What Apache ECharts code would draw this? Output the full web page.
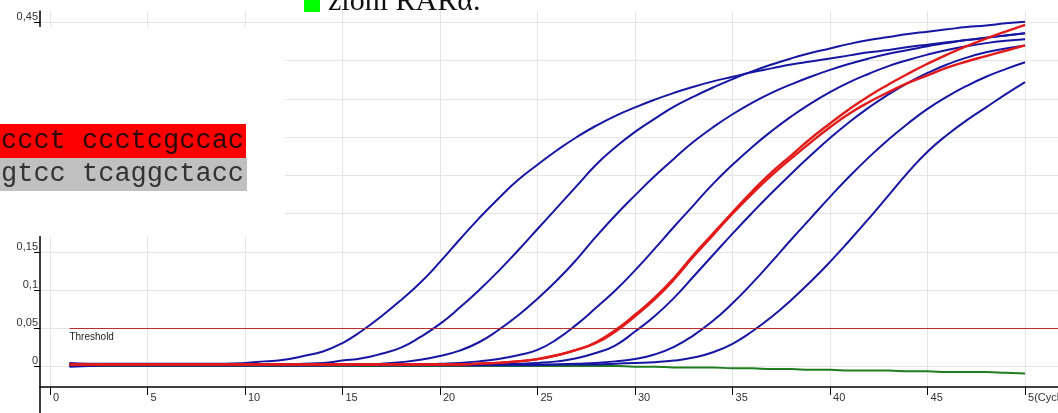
<!DOCTYPE html>
<html>
<head>
<meta charset="utf-8">
<script src="https://cdn.jsdelivr.net/npm/echarts@6/dist/echarts.min.js"></script>
<style>
  html, body { margin: 0; padding: 0; background: #fff; }
  #chart { width: 1058px; height: 413px; }
</style>
</head>
<body>
<div id="chart"></div>
<script>
// amplification curves, fluorescence per cycle
const cycles = [1,2,3,4,5,6,7,8,9,10,11,12,13,14,15,16,17,18,19,20,21,22,23,24,25,26,27,28,29,30,31,32,33,34,35,36,37,38,39,40,41,42,43,44,45,46,47,48,49,50];

const curveA = [0.005,0.004,0.004,0.004,0.004,0.004,0.004,0.004,0.004,0.005,
  0.007,0.009,0.014,0.020,0.031,0.047,0.066,0.087,0.110,0.137,
  0.166,0.194,0.220,0.244,0.264,0.283,0.300,0.315,0.328,0.339,
  0.349,0.358,0.366,0.373,0.379,0.385,0.390,0.395,0.399,0.403,
  0.407,0.411,0.414,0.418,0.421,0.424,0.427,0.430,0.433,0.436];
const curveB = [0.003,0.003,0.003,0.003,0.003,0.003,0.003,0.003,0.003,0.003,
  0.003,0.003,0.004,0.005,0.008,0.011,0.017,0.025,0.039,0.056,
  0.077,0.100,0.125,0.152,0.180,0.208,0.236,0.264,0.287,0.307,
  0.324,0.340,0.353,0.365,0.376,0.386,0.395,0.403,0.410,0.416,
  0.422,0.427,0.431,0.435,0.438,0.441,0.444,0.446,0.449,0.451];
const curveC = [0.001,0.002,0.002,0.002,0.002,0.002,0.002,0.002,0.002,0.002,
  0.002,0.002,0.002,0.002,0.003,0.003,0.004,0.006,0.009,0.014,
  0.021,0.032,0.048,0.067,0.089,0.113,0.140,0.170,0.198,0.224,
  0.249,0.272,0.294,0.313,0.330,0.345,0.358,0.369,0.379,0.388,
  0.396,0.403,0.409,0.414,0.419,0.423,0.427,0.430,0.433,0.436];
const curveD = [0.003,0.003,0.003,0.003,0.003,0.003,0.003,0.003,0.003,0.003,
  0.003,0.003,0.003,0.003,0.003,0.003,0.003,0.003,0.003,0.004,
  0.005,0.007,0.010,0.015,0.022,0.036,0.055,0.077,0.100,0.126,
  0.154,0.183,0.211,0.239,0.264,0.287,0.308,0.327,0.344,0.359,
  0.372,0.383,0.393,0.401,0.408,0.414,0.419,0.423,0.426,0.428];
const curveE = [0.000,0.001,0.002,0.002,0.002,0.002,0.002,0.002,0.002,0.002,
  0.002,0.002,0.002,0.002,0.002,0.002,0.002,0.002,0.002,0.002,
  0.002,0.002,0.003,0.004,0.005,0.007,0.011,0.018,0.028,0.046,
  0.066,0.090,0.118,0.146,0.174,0.201,0.227,0.252,0.276,0.299,
  0.320,0.339,0.356,0.371,0.384,0.395,0.404,0.411,0.416,0.420];
const curveF = [0.002,0.002,0.002,0.002,0.002,0.002,0.002,0.002,0.002,0.002,
  0.002,0.002,0.002,0.002,0.002,0.002,0.002,0.002,0.002,0.002,
  0.002,0.002,0.002,0.002,0.002,0.003,0.004,0.005,0.007,0.010,
  0.016,0.026,0.041,0.060,0.083,0.109,0.137,0.166,0.194,0.222,
  0.249,0.274,0.297,0.318,0.337,0.353,0.367,0.379,0.389,0.398];
const curveG = [0.004,0.003,0.003,0.003,0.003,0.003,0.003,0.003,0.003,0.003,
  0.003,0.003,0.003,0.003,0.003,0.003,0.003,0.003,0.003,0.003,
  0.003,0.003,0.003,0.003,0.003,0.003,0.003,0.003,0.004,0.005,
  0.006,0.008,0.012,0.019,0.030,0.046,0.065,0.087,0.111,0.137,
  0.165,0.194,0.224,0.254,0.281,0.303,0.322,0.339,0.356,0.372];
const curveRed1 = [0.003,0.003,0.003,0.003,0.003,0.003,0.003,0.003,0.003,0.003,
  0.003,0.003,0.003,0.003,0.003,0.003,0.003,0.003,0.003,0.003,
  0.003,0.004,0.005,0.007,0.010,0.015,0.022,0.032,0.048,0.068,
  0.090,0.116,0.146,0.174,0.202,0.229,0.254,0.276,0.298,0.318,
  0.337,0.354,0.369,0.383,0.396,0.408,0.419,0.429,0.438,0.447];
const curveRed2 = [0.003,0.003,0.003,0.003,0.003,0.003,0.003,0.003,0.003,0.003,
  0.003,0.003,0.003,0.003,0.003,0.003,0.003,0.003,0.003,0.003,
  0.003,0.004,0.005,0.007,0.010,0.015,0.022,0.031,0.046,0.066,
  0.088,0.114,0.144,0.172,0.200,0.226,0.250,0.272,0.293,0.313,
  0.331,0.346,0.359,0.371,0.381,0.391,0.399,0.406,0.413,0.420];
const curveNeg = [0.001,0.001,0.001,0.001,0.001,0.001,0.001,0.001,0.001,0.001,
  0.001,0.001,0.001,0.001,0.001,0.001,0.001,0.001,0.001,0.001,
  0.001,0.001,0.001,0.001,0.001,0.001,0.001,0.001,0.001,0.000,
  0.000,-0.001,-0.001,-0.001,-0.002,-0.002,-0.003,-0.003,-0.004,-0.004,
  -0.005,-0.005,-0.005,-0.006,-0.006,-0.007,-0.007,-0.007,-0.008,-0.009];

const blueCurves = [curveA, curveB, curveC, curveD, curveE, curveF, curveG];
const redCurves = [curveRed1, curveRed2];

const threshold = 0.05;
const thresholdStart = 1;
const xMin = -0.51;
const xMax = 51.69;

const toPairs = vals => cycles.map((c, i) => [c, vals[i]]);

function curveSeries(vals, color, width) {
  return {
    type: 'line',
    data: toPairs(vals),
    showSymbol: false,
    smooth: 0.5,
    silent: true,
    lineStyle: { color: color, width: width },
  };
}

const chart = echarts.init(document.getElementById('chart'));
const series = [];
series.push(curveSeries(curveNeg, '#1f7d1f', 2));
blueCurves.forEach(v => series.push(curveSeries(v, '#1616a2', 2)));
redCurves.forEach(v => series.push(curveSeries(v, '#e21a1a', 2.4)));
series.push({
  type: 'line',
  silent: true,
  symbol: 'circle',
  symbolSize: 0,
  lineStyle: { color: '#b52a2a', width: 1 },
  data: [
    {
      value: [thresholdStart, threshold],
      label: {
        show: true,
        formatter: 'Threshold',
        position: [0, 4],
        align: 'left',
        verticalAlign: 'top',
        fontSize: 10,
        fontFamily: 'Liberation Sans, Arial',
        color: '#222',
      },
    },
    [xMax, threshold],
  ],
});

// no grid line at the very top / bottom edge
const gridGray = '#e6e6e6';
const ySplitColors = ['rgba(0,0,0,0)', gridGray, gridGray, gridGray, gridGray, gridGray,
  gridGray, gridGray, gridGray, gridGray, gridGray, 'rgba(0,0,0,0)'];

const option = {
  animation: false,
  grid: { left: 40, right: 0, top: 11, bottom: 26, containLabel: false, outerBoundsMode: 'none' },
  xAxis: {
    type: 'value',
    min: xMin,
    max: xMax,
    splitNumber: 10,
    axisLine: { onZero: false, lineStyle: { color: '#000', width: 1.5 } },
    axisTick: { show: true, length: 8, lineStyle: { color: '#000' } },
    axisLabel: {
      align: 'left',
      margin: 5,
      padding: [0, 0, 0, 3],
      fontSize: 11,
      fontFamily: 'Liberation Sans, Arial',
      color: '#333',
      showMinLabel: false,
      showMaxLabel: false,
      formatter: v => (v === 50 ? '5(Cycles)' : String(v)),
    },
    splitLine: { show: true, lineStyle: { color: gridGray } },
  },
  yAxis: {
    type: 'value',
    min: -0.0265,
    max: 0.465,
    splitNumber: 10,
    axisLine: { show: true, onZero: false, lineStyle: { color: '#000', width: 1.5 } },
    axisTick: { show: true, length: 6, lineStyle: { color: '#000' } },
    axisLabel: {
      showMinLabel: false,
      showMaxLabel: false,
      align: 'right',
      verticalAlign: 'bottom',
      margin: 2,
      fontSize: 11,
      fontFamily: 'Liberation Sans, Arial',
      color: '#333',
      formatter: v => String(+v.toFixed(3)).replace('.', ','),
    },
    splitLine: { show: true, lineStyle: { color: ySplitColors } },
  },
  series: series,
  graphic: [
    // pasted overlay: blank panel with sequence boxes
    { type: 'rect', z: 100, shape: { x: 0, y: 27, width: 285, height: 209 }, style: { fill: '#fff' } },
    { type: 'rect', z: 101, shape: { x: 0, y: 124, width: 246, height: 34 }, style: { fill: '#ff0000' } },
    { type: 'rect', z: 101, shape: { x: 0, y: 158, width: 247, height: 33 }, style: { fill: '#c0c0c0' } },
    { type: 'text', z: 102, x: 1, y: 141, style: { text: 'ccct ccctcgccac', font: '27px "Liberation Mono"', fill: '#2a0a0a', verticalAlign: 'middle' } },
    { type: 'text', z: 102, x: 1, y: 174, style: { text: 'gtcc tcaggctacc', font: '27px "Liberation Mono"', fill: '#333', verticalAlign: 'middle' } },
    { type: 'rect', z: 101, shape: { x: 304, y: 0, width: 16, height: 12 }, style: { fill: '#00ff00' } },
    { type: 'text', z: 102, x: 328, y: 2, style: { text: 'zioni RARα.', font: '30px "Liberation Serif"', fill: '#111', verticalAlign: 'middle' } },
    // y axis runs on below the x axis
    { type: 'line', z: 50, shape: { x1: 40, y1: 387, x2: 40, y2: 413 }, style: { stroke: '#000', lineWidth: 1.5 } },
  ],
};
chart.setOption(option);
</script>
</body>
</html>
